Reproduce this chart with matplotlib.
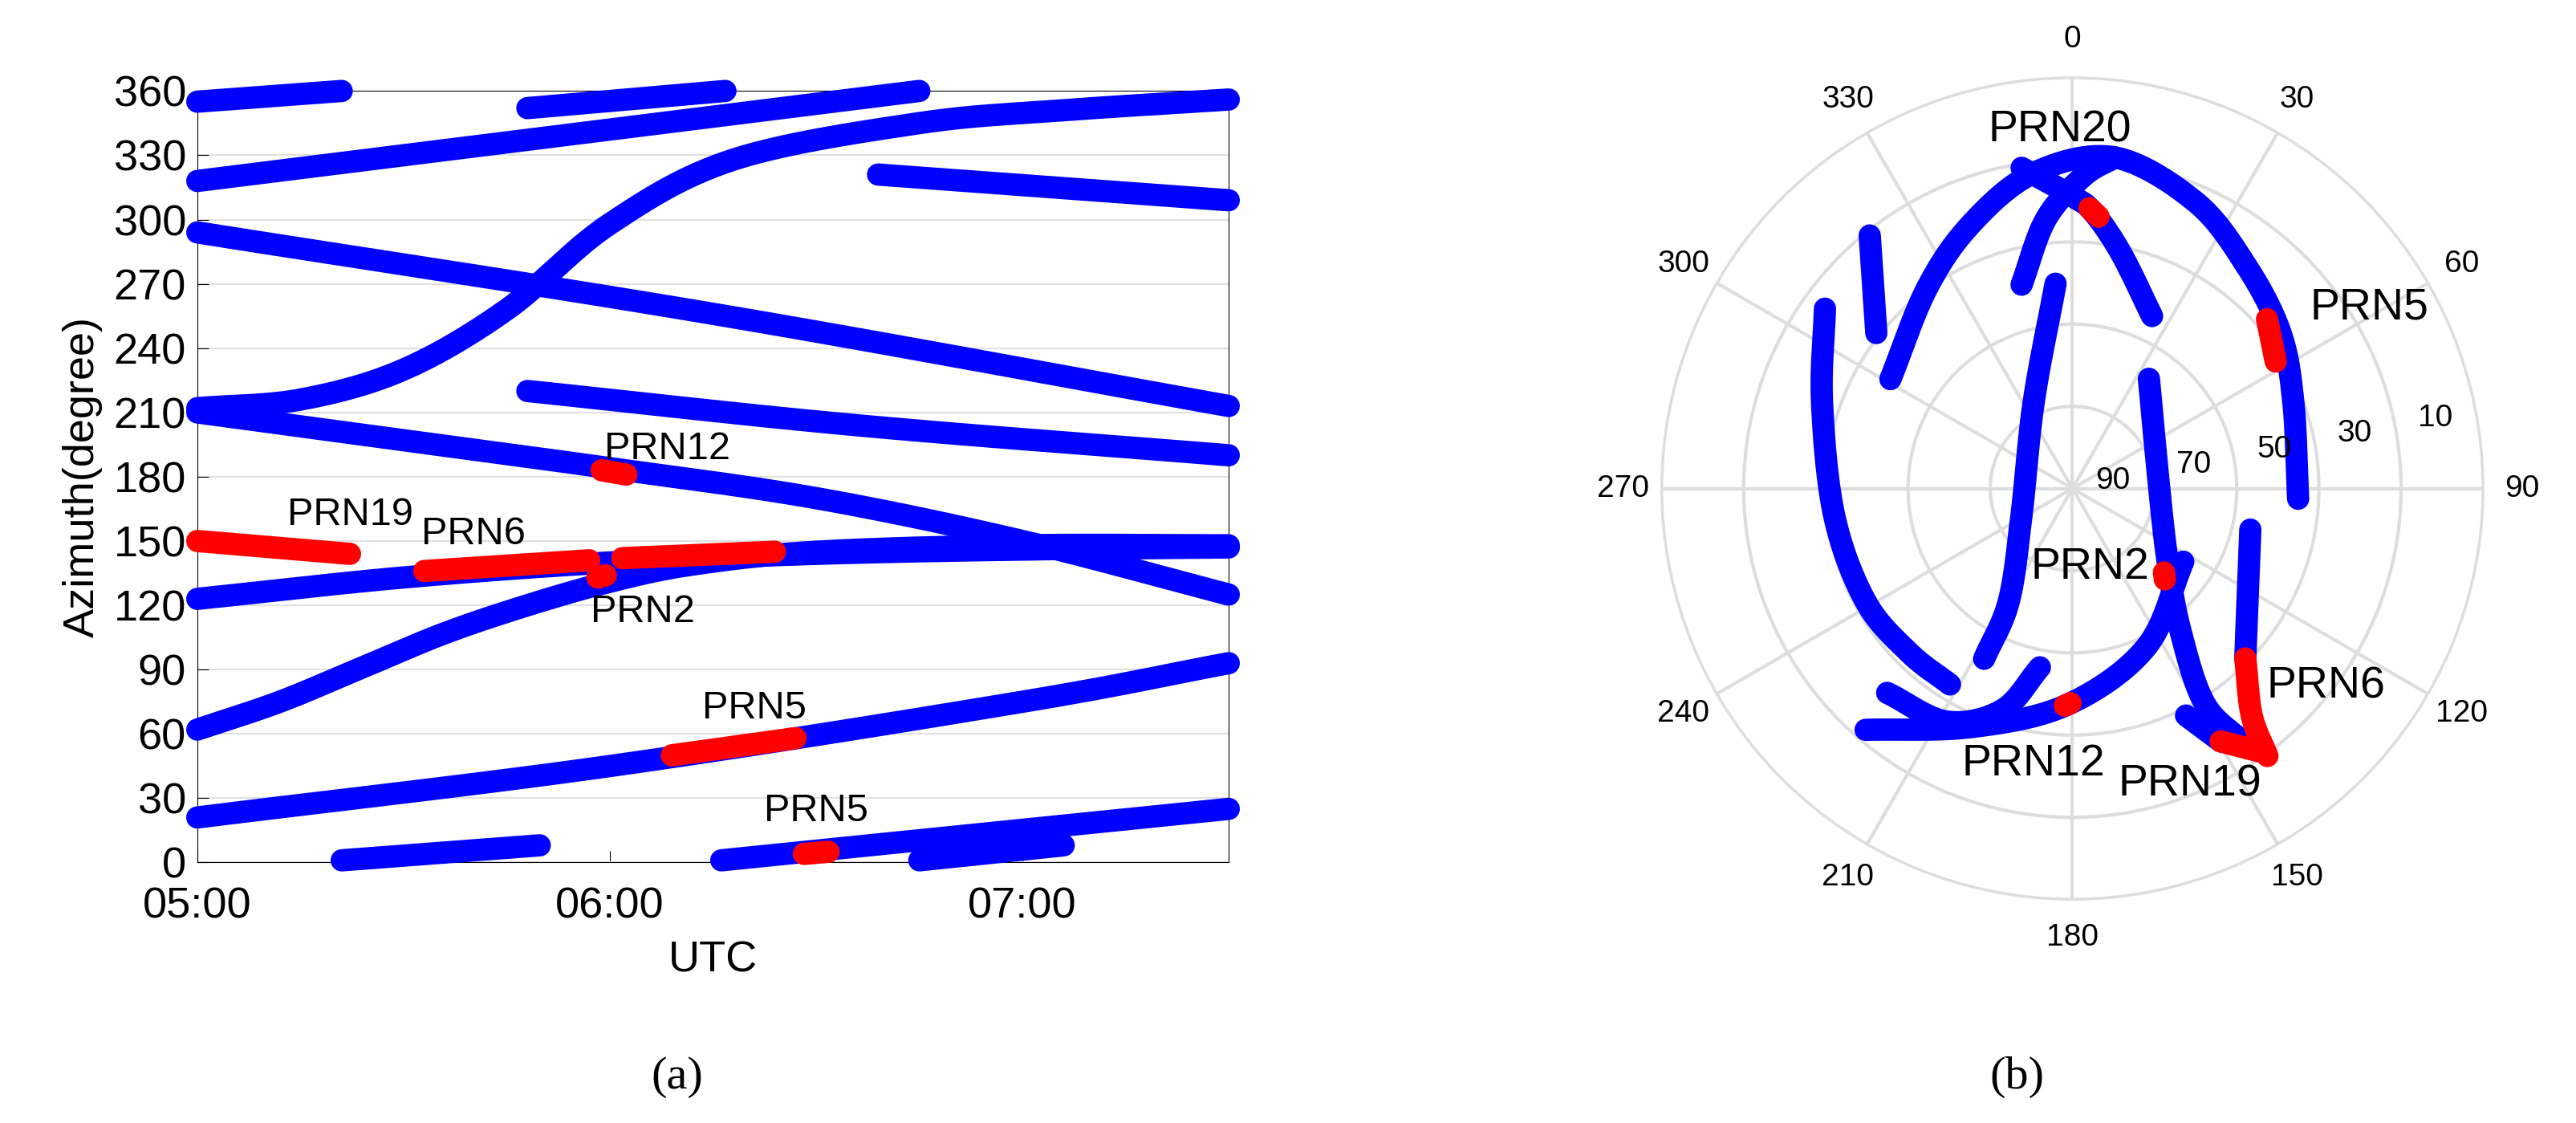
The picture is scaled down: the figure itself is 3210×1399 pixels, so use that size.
import numpy as np
import matplotlib
matplotlib.use("Agg")
import matplotlib.pyplot as plt

plt.rcParams['font.family'] = ['Liberation Sans', 'DejaVu Sans']

# ---------- left panel data: (UTC hour, azimuth) ----------
left_tracks = [
    ([5.0, 5.35], [355, 360]),
    ([5.8, 6.28], [352, 360]),
    ([5.0, 6.75], [318, 360]),
    ([5.0, 5.25, 5.5, 5.75, 6.0, 6.3, 6.75, 7.1, 7.5], [212, 216, 230, 258, 298, 328, 345, 351, 356]),
    ([6.65, 7.5], [321, 309]),
    ([5.0, 6.25, 7.5], [294, 256, 213]),
    ([5.8, 6.6, 7.5], [220, 204, 190]),
    ([5.0, 5.5, 6.0, 6.5, 7.0, 7.5], [210, 197, 184, 170, 150, 125]),
    ([5.0, 5.5, 6.0, 6.5, 7.0, 7.5], [123, 133, 140, 144, 146, 147]),
    ([5.0, 5.2, 5.4, 5.6, 5.8, 6.0, 6.2, 6.5, 7.0, 7.5], [62, 75, 91, 107, 120, 131, 139, 145, 148, 148]),
    ([5.0, 6.0, 7.0, 7.5], [21, 45, 75, 93]),
    ([5.35, 5.83], [1, 8]),
    ([6.27, 7.5], [1, 25]),
    ([6.75, 7.1], [1, 8]),
]
left_red = [
    ([5.0, 5.37], [150, 144]),
    ([5.55, 5.95], [136, 141]),
    ([6.03, 6.4], [142, 145]),
    ([5.97, 5.99], [133, 134]),
    ([5.98, 6.04], [183, 181]),
    ([6.15, 6.45], [50, 58]),
    ([6.47, 6.53], [4, 5]),
]
left_labels = [("PRN19", 5.37, 162), ("PRN6", 5.67, 153), ("PRN12", 6.14, 193),
               ("PRN2", 6.08, 117), ("PRN5", 6.35, 72), ("PRN5", 6.5, 24)]

# ---------- right panel data: (azimuth deg, elevation deg) ----------
polar_tracks = [
    ([301, 324, 339, 353, 367.3, 383.3, 397.7, 413, 428.5, 452.6], [43.5, 35.8, 28, 20.4, 16.9, 21.7, 28, 33, 38, 40.5]),
    ([351, 360, 364.3, 371.7, 384.8], [18.9, 26, 29.3, 37.4, 48.4]),
    ([346, 354.4, 362, 367.3], [44, 30.7, 21.6, 16.9]),
    ([321.3, 308.4], [19, 35.2]),
    ([306, 289, 263.4, 241.3, 224.8, 212], [23, 32, 37.5, 38.4, 39.3, 39.4]),
    ([355.3, 336, 241.6, 209.4, 207.4], [45, 69.2, 77.3, 61.6, 48]),
    ([34.9, 89, 127.5, 142.7, 148.4, 145.9], [60.7, 71, 63.7, 51, 34.6, 22.4]),
    ([123.4, 155, 181.2, 202.9, 220.6], [60.9, 51.7, 42.7, 33.3, 20.4]),
    ([190.3, 197.5, 208.4, 222.2], [50.2, 39.2, 32, 29.6]),
    ([103, 134.5], [50, 36.9]),
    ([153.4, 149.6], [34.4, 25.8]),
]
polar_red = [
    ([49, 53, 58], [33.5, 35.5, 37.5]),
    ([3.5, 5.5], [28.5, 30.2]),
    ([132.5, 134.5], [62.8, 61.6]),
    ([180.5, 182], [43, 42.4]),
    ([134.5, 141.7, 143.9], [36.9, 26.6, 17.5]),
    ([149.6, 144], [25.8, 18.5]),
]
polar_labels = [("PRN20", 358, 11.6), ("PRN5", 58.7, 13.8), ("PRN2", 167.7, 72.3),
                ("PRN6", 128, 19.4), ("PRN12", 188, 29), ("PRN19", 158.4, 20.3)]
ring_labels = ["90", "70", "50", "30", "10"]


def smooth(x, y, n=30):
    """Catmull-Rom curve through the given points (drawing only)."""
    x = np.asarray(x, float); y = np.asarray(y, float)
    if len(x) < 3:
        return x, y
    P = np.column_stack([x, y])
    P = np.vstack([2 * P[0] - P[1], P, 2 * P[-1] - P[-2]])
    out = []
    t = np.linspace(0, 1, n, endpoint=False)[:, None]
    for i in range(1, len(P) - 2):
        p0, p1, p2, p3 = P[i - 1], P[i], P[i + 1], P[i + 2]
        out.append(0.5 * ((2 * p1) + (-p0 + p2) * t + (2 * p0 - 5 * p1 + 4 * p2 - p3) * t ** 2
                          + (-p0 + 3 * p1 - 3 * p2 + p3) * t ** 3))
    out.append(P[-2][None, :])
    o = np.vstack(out)
    return o[:, 0], o[:, 1]


def polar_smooth(az, el):
    r = 90 - np.asarray(el, float)
    th = np.radians(az)
    xs, ys = smooth(r * np.sin(th), r * np.cos(th))
    return np.arctan2(xs, ys), np.hypot(xs, ys)


fig = plt.figure(figsize=(32.1, 13.99), dpi=100)
LW = 20
BLUE, RED = "#0000ff", "#ff0000"

ax = fig.add_axes([0.0766, 0.232, 0.4004, 0.687])
for t, a in left_tracks:
    ax.plot(*smooth(t, a), color=BLUE, lw=LW, solid_capstyle="round", zorder=3, clip_on=False)
for t, a in left_red:
    ax.plot(*smooth(t, a), color=RED, lw=LW, solid_capstyle="round", zorder=4, clip_on=False)
for s, x, y in left_labels:
    ax.text(x, y, s, fontsize=35, ha="center", va="center", zorder=5)
ax.set_xlim(5, 7.5)
ax.set_ylim(0, 360)
ax.set_xticks([5, 6, 7])
ax.set_xticklabels(["05:00", "06:00", "07:00"])
ax.set_yticks(np.arange(0, 361, 30))
ax.tick_params(labelsize=39, direction="in", length=10, pad=10)
ax.tick_params(axis="x", pad=22)
ax.grid(axis="y", color="#e0e0e0", lw=1.5)
ax.set_xlabel("UTC", fontsize=39, labelpad=12)
ax.set_ylabel("Azimuth(degree)", fontsize=39, labelpad=10)
ax.set_axisbelow(True)

pa = fig.add_axes([0.645, 0.199, 0.319, 0.732], projection="polar")
pa.set_theta_zero_location("N")
pa.set_theta_direction(-1)
for az, el in polar_tracks:
    pa.plot(*polar_smooth(az, el), color=BLUE, lw=LW, solid_capstyle="round", zorder=3)
for az, el in polar_red:
    pa.plot(*polar_smooth(az, el), color=RED, lw=LW, solid_capstyle="round", zorder=4)
for s, az, el in polar_labels:
    pa.text(np.radians(az), 90 - el, s, fontsize=40, ha="center", va="center", zorder=5)
pa.set_ylim(0, 90)
pa.set_yticks([18, 36, 54, 72, 90])
pa.set_yticklabels([])
pa.set_xticks(np.radians(np.arange(0, 360, 30)))
pa.set_xticklabels([str(d) for d in range(0, 360, 30)], fontsize=28)
pa.tick_params(axis="x", pad=24)
pa.grid(color="#dddddd", lw=3)
pa.spines["polar"].set_color("#dddddd")
pa.spines["polar"].set_linewidth(2)
for i, s in enumerate(ring_labels):
    pa.text(np.radians(79), 9 + 18 * i, s, fontsize=28, ha="center", va="center", zorder=6)

fig.text(0.263, 0.041, "(a)", fontsize=42, family="Liberation Serif", ha="center", va="center")
fig.text(0.783, 0.041, "(b)", fontsize=42, family="Liberation Serif", ha="center", va="center")
fig.savefig("out.png", dpi=100)
